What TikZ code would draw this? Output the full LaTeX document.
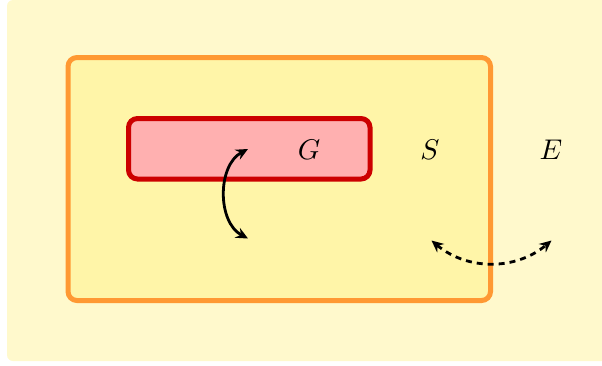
\documentclass[tikz,border=0pt]{standalone}
\usetikzlibrary{arrows.meta}
\definecolor{bgyellow}{HTML}{FFF9CC}
\definecolor{inneryellow}{HTML}{FFF5A8}
\definecolor{sysorange}{HTML}{FF9933}
\definecolor{grpred}{HTML}{CC0000}
\definecolor{grppink}{HTML}{FFB0B0}
\tikzset{
  env/.style={fill=bgyellow, rounded corners=6pt},
  sysbox/.style={draw=sysorange, fill=inneryellow, line width=5pt, rounded corners=9pt},
  grpbox/.style={draw=grpred, fill=grppink, line width=5pt, rounded corners=9pt},
  lbl/.style={scale=2.85, inner sep=0pt},
  link/.style={line width=2.8pt, {Stealth[length=12pt,width=11pt,inset=4pt]}-{Stealth[length=12pt,width=11pt,inset=4pt]}},
  loose/.style={link, dash pattern=on 6pt off 5pt}
}
\begin{document}
\begin{tikzpicture}[x=1pt, y=-1pt]
  \useasboundingbox (0,0) rectangle (602,365);
  % environment, system and group regions
  \fill[env] (7,0) rectangle (620,361);
  \draw[sysbox] (68,57.5) rectangle (490.5,300.5);
  \draw[grpbox] (128.5,118.5) rectangle (370,179);
  % labels
  \node[lbl] (G) at (309,150) {$G$};
  \node[lbl] (S) at (430,150) {$S$};
  \node[lbl] (E) at (551,150) {$E$};
  % interaction ends
  \coordinate (g1) at (248,149);
  \coordinate (g2) at (248,238.5);
  \coordinate (s1) at (431.5,240.5);
  \coordinate (e1) at (551.5,240.5);
  % interactions
  \draw[link] (g1) to[bend right=62] (g2);
  \draw[loose] (s1) to[bend right=40] (e1);
\end{tikzpicture}
\end{document}
